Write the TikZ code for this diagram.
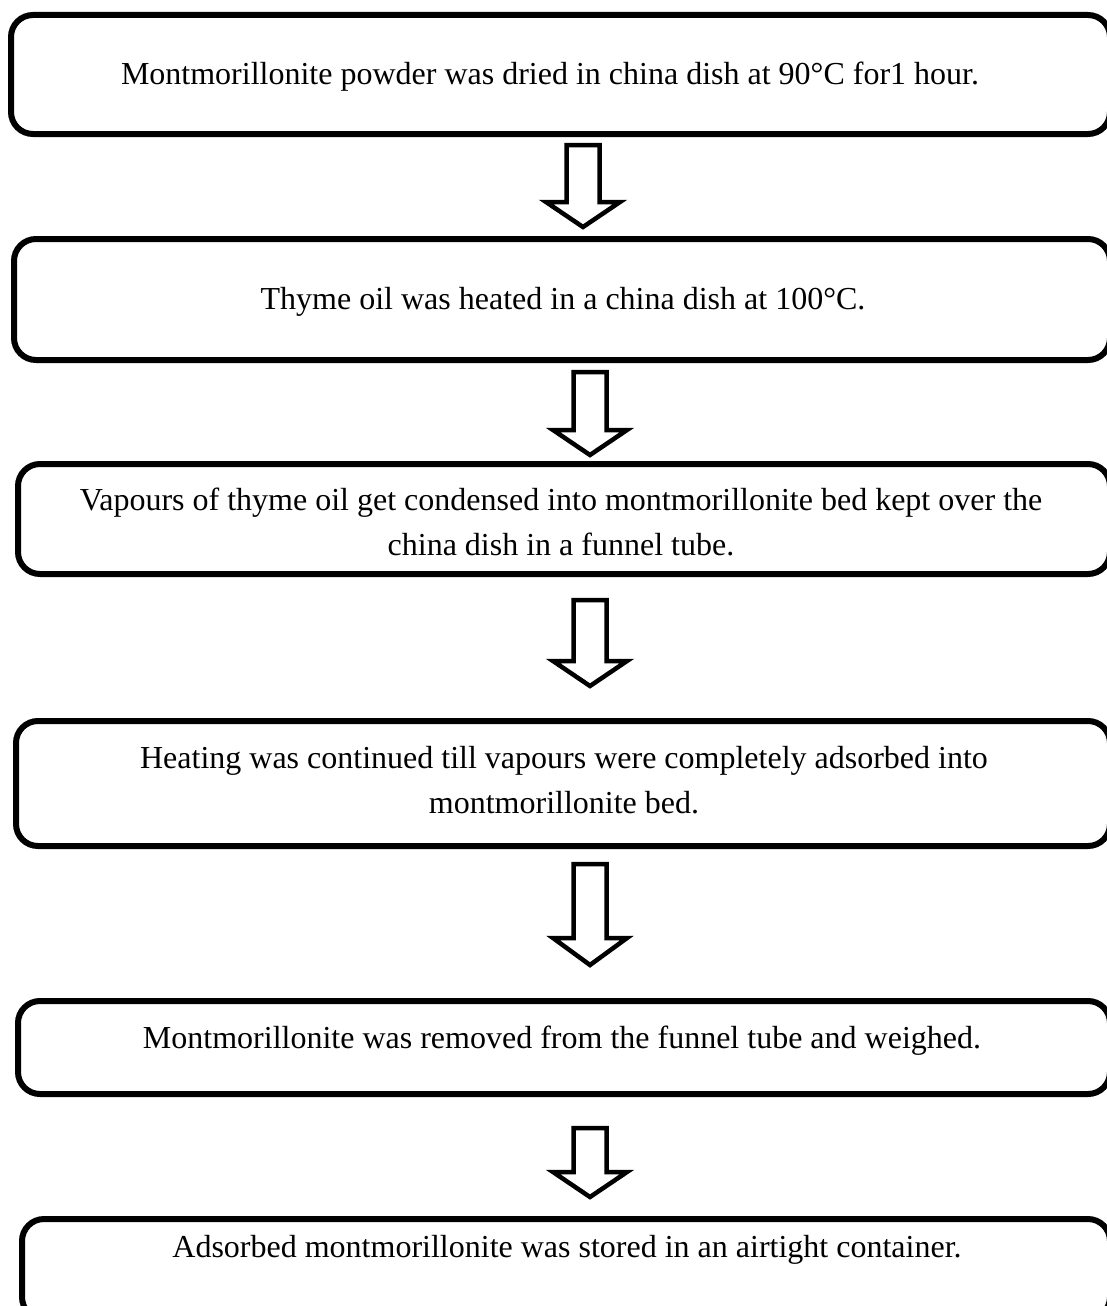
\documentclass[tikz,border=0pt]{standalone}
\usepackage{fontspec}
\setmainfont{Liberation Serif}
\newcommand\blockarrow[4]{%
  \draw[blockarr] (#1-16.5,#2) -- (#1+16.5,#2) -- (#1+16.5,#3) -- (#1+37,#3) -- (#1,#4)
    -- (#1-37,#3) -- (#1-16.5,#3) -- cycle;}
\begin{document}
\begin{tikzpicture}[x=1pt,y=-1pt,
  stepbox/.style={draw, line width=6pt, rounded corners=22pt, inner sep=0pt},
  steptext/.style={font=\fontsize{32}{45}\selectfont, align=center, inner sep=0pt},
  blockarr/.style={draw, line width=4.5pt, miter limit=10, fill=white}]
\useasboundingbox (0,0) rectangle (1106,1306);
% boxes
\node[stepbox, minimum width=1099pt, minimum height=119pt] (b1) at (560.5,74.5) {};
\node[stepbox, minimum width=1096pt, minimum height=121pt] (b2) at (562,299.5) {};
\node[stepbox, minimum width=1092pt, minimum height=110pt] (b3) at (564,519) {};
\node[stepbox, minimum width=1094pt, minimum height=125pt] (b4) at (563,783.5) {};
\node[stepbox, minimum width=1092pt, minimum height=93pt] (b5) at (564,1047.5) {};
\node[stepbox, minimum width=1088pt, minimum height=100pt] (b6) at (566,1269) {};
% texts
\node[steptext] (t1) at (550,77) {Montmorillonite powder was dried in china dish at 90°C for1 hour.};
\node[steptext] (t2) at (563,302) {Thyme oil was heated in a china dish at 100°C.};
\node[steptext] (t3) at (561,522) {Vapours of thyme oil get condensed into montmorillonite bed kept over the\\china dish in a funnel tube.};
\node[steptext] (t4) at (564,780) {Heating was continued till vapours were completely adsorbed into\\montmorillonite bed.};
\node[steptext] (t5) at (562,1041) {Montmorillonite was removed from the funnel tube and weighed.};
\node[steptext] (t6) at (567,1250) {Adsorbed montmorillonite was stored in an airtight container.};
% arrows
\blockarrow{583}{145}{202}{227}
\blockarrow{590}{372}{430}{455}
\blockarrow{590}{600}{661}{686}
\blockarrow{590}{864}{938}{965}
\blockarrow{590}{1128}{1172}{1197}
\end{tikzpicture}
\end{document}
